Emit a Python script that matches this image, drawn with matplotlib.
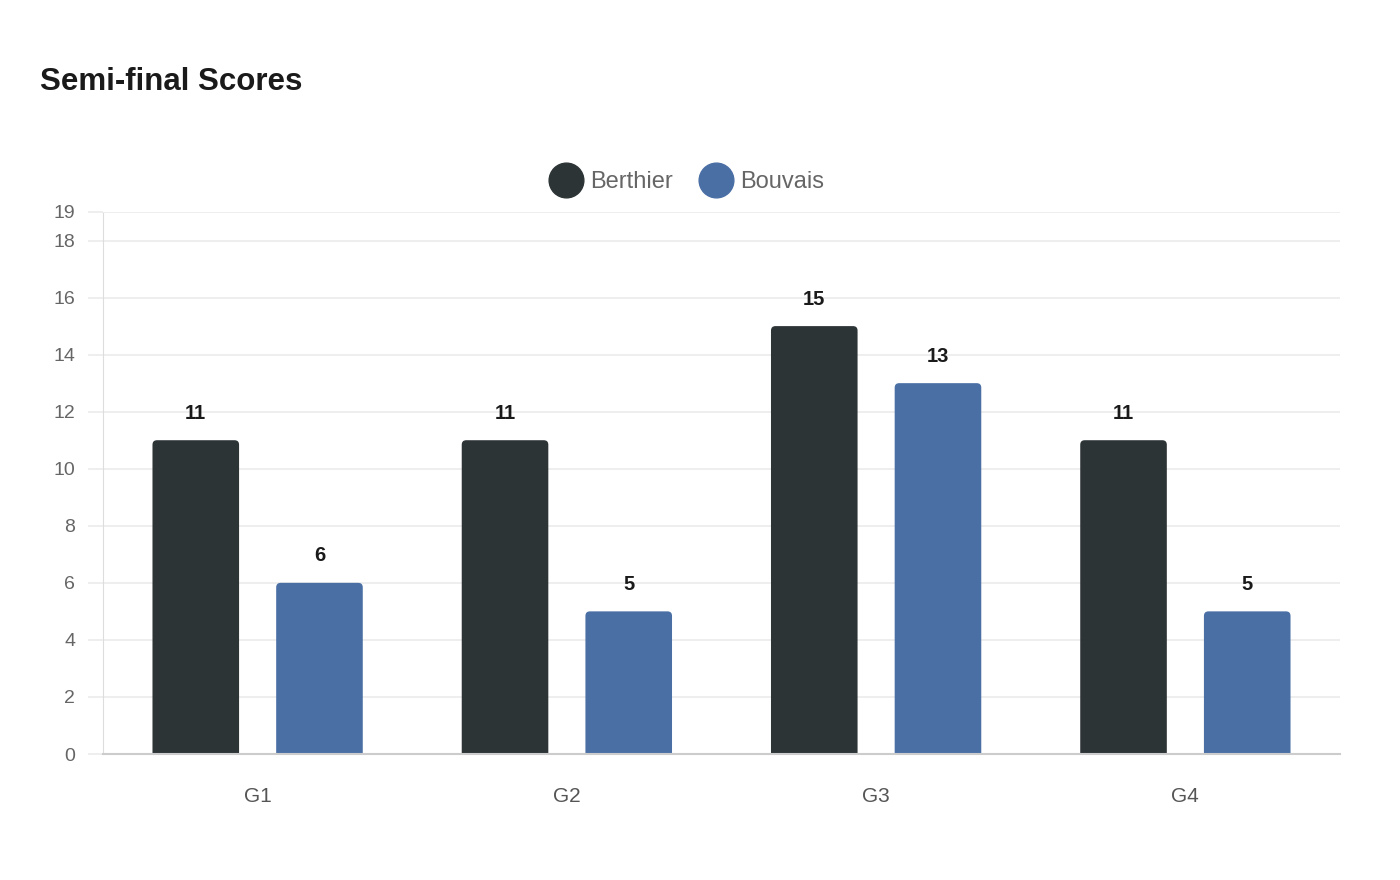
import matplotlib
matplotlib.use("Agg")
import matplotlib.pyplot as plt
from matplotlib.patches import FancyBboxPatch
from matplotlib.lines import Line2D
import numpy as np

plt.rcParams['font.family'] = ['Liberation Sans', 'DejaVu Sans']

categories = ["G1", "G2", "G3", "G4"]
series_names = ["Berthier", "Bouvais"]
berthier = [11, 11, 15, 11]
bouvais = [6, 5, 13, 5]
yticks = [0, 2, 4, 6, 8, 10, 12, 14, 16, 18, 19]
colors = ["#2d3436", "#4a6fa5"]

W, H = 1400, 880
fig = plt.figure(figsize=(W / 100, H / 100), dpi=100)
fig.patch.set_facecolor("white")
ax = fig.add_axes([103 / W, 1 - 754 / H, (1340 - 103) / W, (754 - 212) / H])

x = np.arange(len(categories))
offset = 0.2
bw = 0.28
ax.set_xlim(-0.5, len(categories) - 0.5)
ax.set_ylim(0, 19)

# px per unit
xpx = (1340 - 103) / len(categories)
ypx = (754 - 212) / 19
r = 4.5 / xpx
aspect = (1 / ypx) / (1 / xpx)

for vals, dx, col in [(berthier, -offset, colors[0]), (bouvais, offset, colors[1])]:
    bars = ax.bar(x + dx, vals, width=bw, color=col)
    for b, v in zip(bars, vals):
        bx, bwid = b.get_x(), b.get_width()
        b.remove()
        p = FancyBboxPatch((bx, -0.5), bwid, v + 0.5,
                           boxstyle=f"round,pad=0,rounding_size={r}",
                           mutation_aspect=aspect, facecolor=col,
                           edgecolor="none", zorder=2)
        ax.add_patch(p)
        ax.annotate(str(v), (bx + bwid / 2, v), xytext=(0, 19.5),
                    textcoords="offset points", ha="center", va="center",
                    fontsize=14.5, fontweight="bold", color="#1a1a1a")

ax.set_yticks(yticks)
ax.set_yticklabels([str(t) for t in yticks])
ax.set_xticks(x)
ax.set_xticklabels(categories)
ax.grid(axis="y", color="#ebebeb", linewidth=1.2, zorder=0)
ax.set_axisbelow(True)
ax.tick_params(axis="y", length=11, color="#ebebeb", width=1.2, pad=9,
               labelsize=14, labelcolor="#666666")
ax.tick_params(axis="x", length=0, pad=23.5, labelsize=15, labelcolor="#555555")

for s in ["top", "right"]:
    ax.spines[s].set_visible(False)
ax.spines["left"].set_color("#dddddd")
ax.spines["left"].set_linewidth(0.8)
ax.spines["left"].set_linestyle((0, (1, 1)))
ax.spines["bottom"].set_color("#cccccc")
ax.spines["bottom"].set_linewidth(1.5)
ax.spines["bottom"].set_zorder(3)

handles = [Line2D([], [], marker="o", linestyle="none", markersize=25,
                  markerfacecolor=c, markeredgecolor=c) for c in colors]
fig.legend(handles, series_names, loc="center", bbox_to_anchor=(688 / W, 1 - 182 / H),
           ncol=2, frameon=False, fontsize=17, labelcolor="#666666",
           handlelength=1.2, handletextpad=0.42, columnspacing=1.2,
           borderaxespad=0, borderpad=0)

fig.text(40 / W, 1 - 82 / H, "Semi-final Scores", fontsize=22.5, fontweight="bold",
         color="#1a1a1a", ha="left", va="center")

fig.savefig("out.png", dpi=100, facecolor="white")
